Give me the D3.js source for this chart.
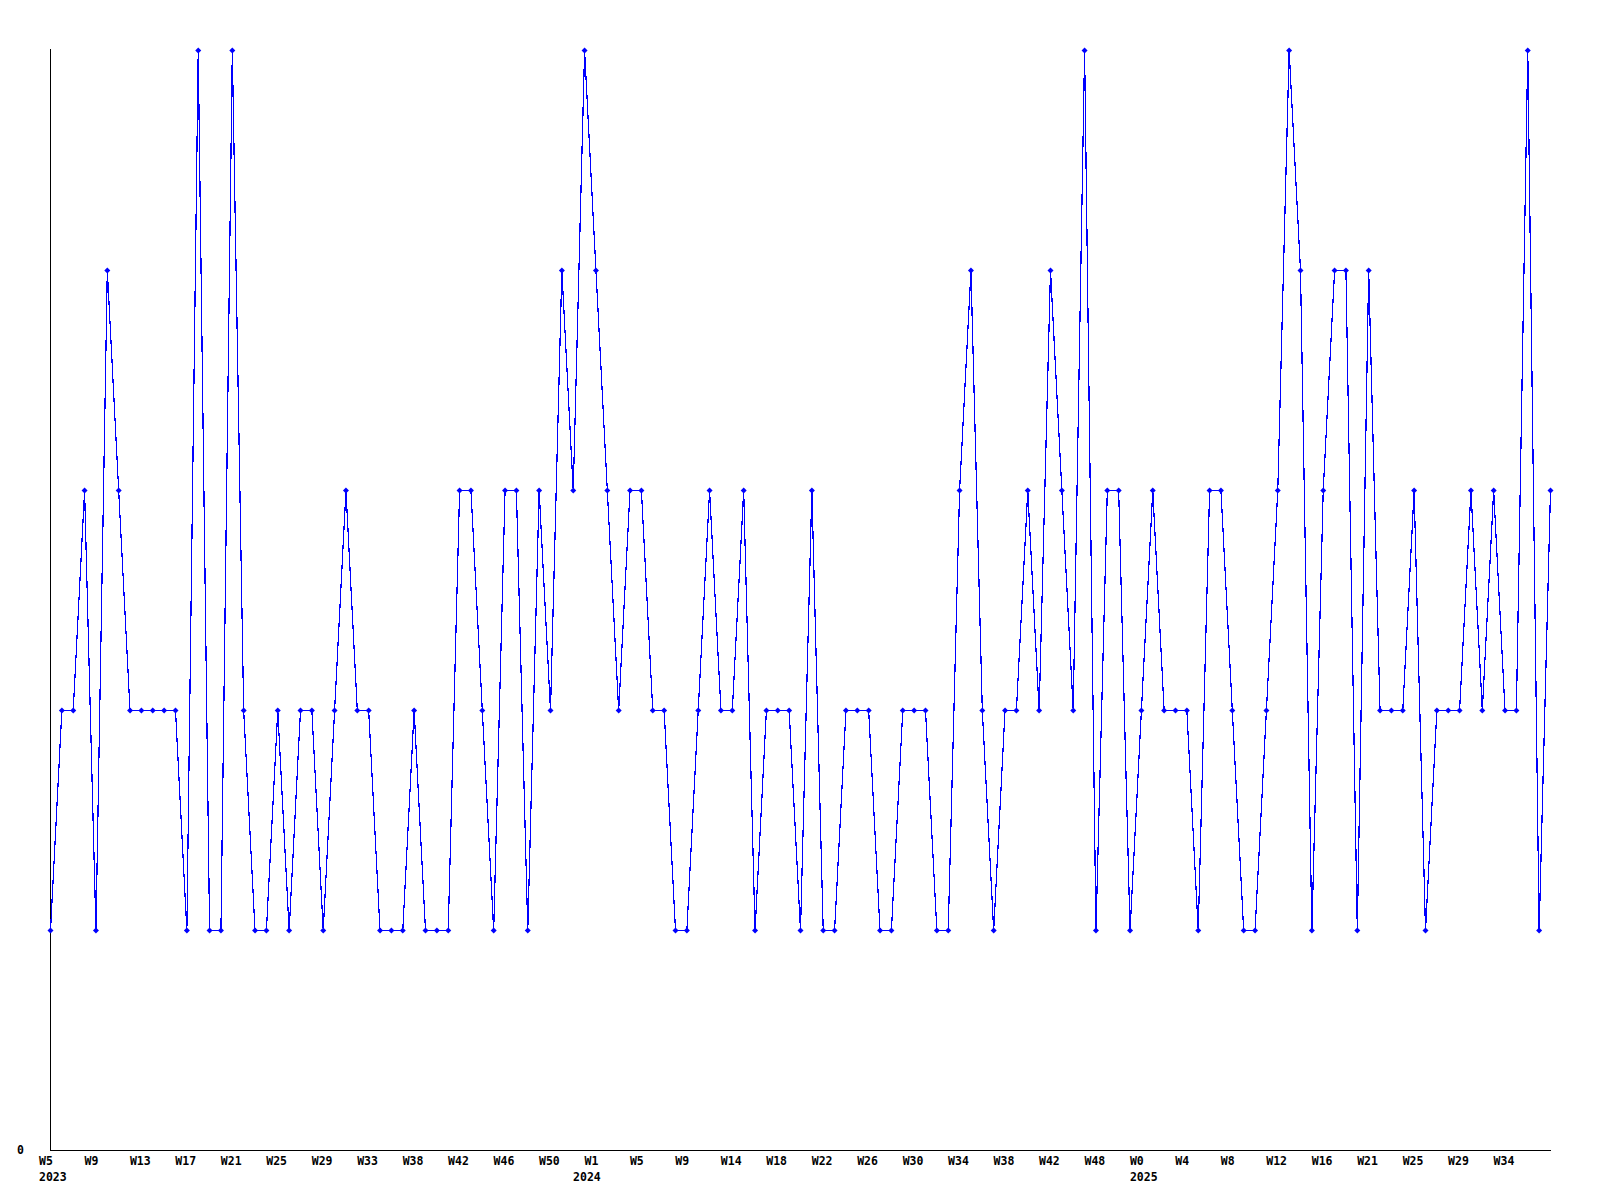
<!DOCTYPE html>
<html>
<head>
<meta charset="utf-8">
<script src="https://cdn.jsdelivr.net/npm/d3@7"></script>
<style>
  body { margin: 0; background: #fff; }
  text { font-family: "DejaVu Sans Mono", monospace; font-weight: bold; font-size: 11.5px; }
</style>
</head>
<body>
<div id="chart"></div>
<script>
// weekly values, one per point
var values = [
  1, 2, 2, 3, 1, 4, 3, 2, 2, 2, 2, 2, 1, 5, 1, 1, 5, 2, 1, 1,
  2, 1, 2, 2, 1, 2, 3, 2, 2, 1, 1, 1, 2, 1, 1, 1, 3, 3, 2, 1,
  3, 3, 1, 3, 2, 4, 3, 5, 4, 3, 2, 3, 3, 2, 2, 1, 1, 2, 3, 2,
  2, 3, 1, 2, 2, 2, 1, 3, 1, 1, 2, 2, 2, 1, 1, 2, 2, 2, 1, 1,
  3, 4, 2, 1, 2, 2, 3, 2, 4, 3, 2, 5, 1, 3, 3, 1, 2, 3, 2, 2,
  2, 1, 3, 3, 2, 1, 1, 2, 3, 5, 4, 1, 3, 4, 4, 1, 4, 2, 2, 2,
  3, 1, 2, 2, 2, 3, 2, 3, 2, 2, 5, 1, 3
];

// a label every 4th point
var weekLabels = ["W5", "W9", "W13", "W17", "W21", "W25", "W29", "W33", "W38", "W42",
  "W46", "W50", "W1", "W5", "W9", "W14", "W18", "W22", "W26", "W30", "W34", "W38",
  "W42", "W48", "W0", "W4", "W8", "W12", "W16", "W21", "W25", "W29", "W34"];
var labelStep = 4;

var yearLabels = ["2023", "2024", "2025"];
var yearIndex = [0, 47, 96];

var svg = d3.select("#chart")
            .append("svg")
            .attr("width", 1600)
            .attr("height", 1200);

var margin = {top: 50, right: 50, bottom: 50, left: 50},
    width = svg.attr("width") - margin.left - margin.right,
    height = svg.attr("height") - margin.top - margin.bottom;

var x = d3.scaleLinear().domain([0, values.length - 1]).range([margin.left, margin.left + width]);
var y = d3.scaleLinear().domain([0, 5]).range([margin.top + height, margin.top]);

// axes: plain lines, no ticks
svg.append("line")
   .attr("x1", x(0) + 0.5).attr("x2", x(0) + 0.5)
   .attr("y1", y(5) - 1).attr("y2", y(0) + 0.5)
   .style("stroke", "black")
   .style("shape-rendering", "crispEdges");
svg.append("line")
   .attr("x1", x(0)).attr("x2", x(values.length - 1) + 1)
   .attr("y1", y(0) + 0.5).attr("y2", y(0) + 0.5)
   .style("stroke", "black")
   .style("shape-rendering", "crispEdges");

svg.append("text")
   .attr("x", 17)
   .attr("y", y(0) + 4)
   .text("0");

var line = d3.line()
  .x(function(d, i) { return x(i) + 0.5; })
  .y(function(d) { return y(d) + 0.5; });

svg.append("path")
   .datum(values)
   .attr("d", line)
   .style("fill", "none")
   .style("stroke", "#0000ff")
   .style("stroke-width", 1.2)
   .style("shape-rendering", "crispEdges");

// small filled diamond markers
svg.selectAll("path.pt")
   .data(values)
   .enter()
   .append("path")
   .attr("class", "pt")
   .attr("d", function(d, i) {
     var cx = x(i) + 0.5, cy = y(d) + 0.5, r = 3;
     return "M" + (cx - r) + "," + cy + "L" + cx + "," + (cy - r) +
            "L" + (cx + r) + "," + cy + "L" + cx + "," + (cy + r) + "Z";
   })
   .style("fill", "#0000ff");

svg.selectAll("text.week")
   .data(weekLabels)
   .enter()
   .append("text")
   .attr("class", "week")
   .attr("x", function(d, i) { return x(i * labelStep) - 11; })
   .attr("y", y(0) + 15)
   .text(function(d) { return d; });

svg.selectAll("text.year")
   .data(yearLabels)
   .enter()
   .append("text")
   .attr("class", "year")
   .attr("x", function(d, i) { return x(yearIndex[i]) - 11; })
   .attr("y", y(0) + 31)
   .text(function(d) { return d; });
</script>
</body>
</html>
